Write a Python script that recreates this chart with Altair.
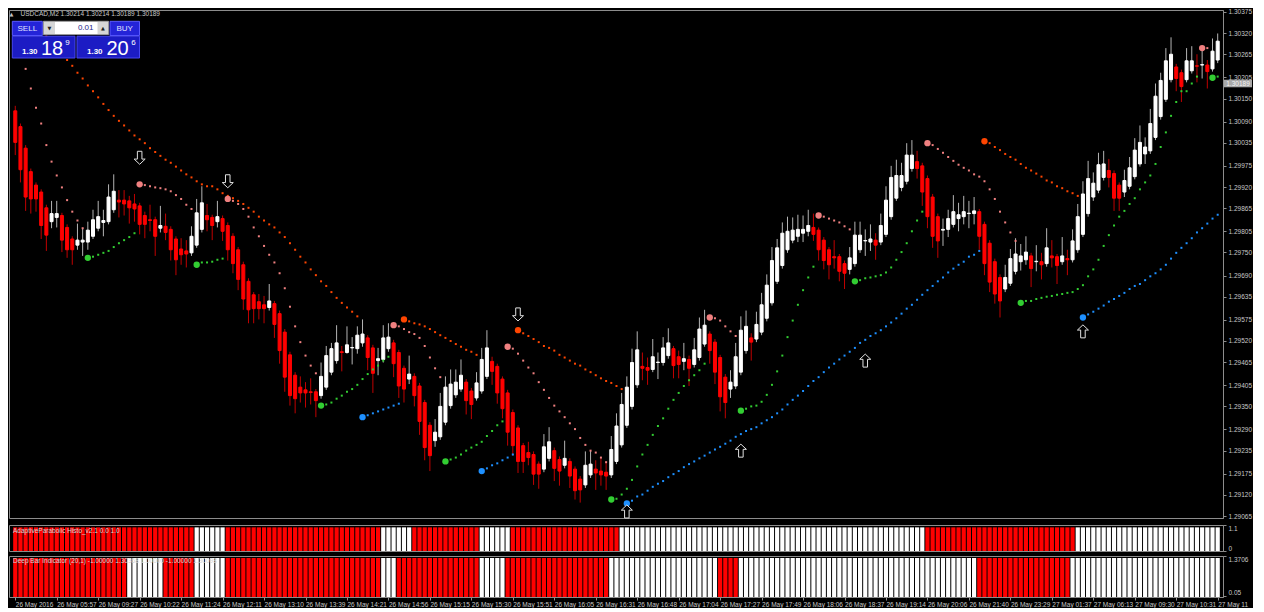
import altair as alt
import numpy as np
import pandas as pd

PT = 1e5  # prices are stored in points (1/100000)

OPEN = [
 130118,130077,130021,129960,129925,129907,129866,129830,129841,129846,
 129815,129785,129769,129777,129777,129792,129813,129828,129830,129861,
 129886,129886,129884,129876,129871,129846,129835,129835,129813,129818,
 129810,129785,129759,129754,129749,129769,129810,129846,129841,129830,
 129838,129820,129792,129757,129718,129675,129640,129622,129614,129607,
 129617,129591,129543,129484,129431,129400,129393,129388,129388,129378,
 129400,129439,129469,129492,129490,129502,129500,129515,129528,129502,
 129469,129472,129500,129515,129490,129449,129421,129428,129403,129360,
 129301,129261,129271,129309,129352,129380,129395,129413,129390,129372,
 129390,129428,129467,129454,129421,129385,129334,129294,129248,129230,
 129225,129200,129187,129215,129235,129212,129197,129207,129187,129161,
 129146,129172,129187,129182,129179,129172,129207,129250,129301,129350,
 129406,129454,129451,129446,129464,129464,129482,129500,129479,129467,
 129472,129459,129477,129512,129538,129517,129477,129426,129395,129403,
 129439,129495,129528,129525,129543,129579,129619,129675,129716,129757,
 129782,129792,129800,129805,129815,129808,129782,129757,129739,129739,
 129721,129706,129721,129757,129780,129777,129782,129777,129797,129843,
 129891,129919,129935,129968,129986,129975,129942,129894,129843,129808,
 129810,129823,129838,129843,129851,129851,129856,129823,129774,129726,
 129685,129655,129670,129701,129726,129731,129741,129726,129726,129721,
 129741,129739,129726,129734,129731,129757,129797,129851,129894,129912,
 129945,129963,129955,129925,129907,129922,129947,129980,130006,130014,
 130049,130103,130148,130199,130232,130217,130199,130222,130235,130237,
 130237,130227,130250]

HIGH = [
 130131,130085,130029,129968,129932,129914,129874,129884,129884,129853,
 129823,129792,129825,129813,129830,129861,129884,129861,129927,129953,
 129912,129912,129897,129902,129879,129856,129874,129843,129871,129851,
 129818,129792,129787,129782,129818,129889,129922,129876,129848,129884,
 129846,129828,129800,129764,129726,129683,129647,129642,129637,129668,
 129624,129599,129551,129492,129439,129428,129413,129423,129395,129464,
 129507,129515,129561,129507,129558,129530,129558,129576,129535,129510,
 129502,129561,129566,129523,129497,129456,129482,129436,129411,129367,
 129309,129317,129385,129428,129446,129446,129472,129421,129398,129439,
 129502,129548,129479,129461,129428,129393,129342,129301,129255,129258,
 129233,129207,129278,129296,129243,129220,129261,129215,129194,129169,
 129233,129235,129210,129215,129207,129273,129332,129385,129428,129500,
 129545,129490,129477,129525,129490,129530,129553,129507,129495,129515,
 129482,129528,129581,129601,129545,129525,129484,129434,129444,129515,
 129584,129599,129540,129596,129645,129693,129764,129785,129828,129843,
 129841,129848,129846,129861,129851,129815,129790,129764,129782,129746,
 129729,129764,129830,129830,129810,129823,129800,129851,129922,129975,
 129991,129983,130034,130042,130014,129983,129950,129902,129851,129838,
 129861,129899,129879,129897,129884,129894,129863,129830,129782,129734,
 129693,129718,129759,129787,129772,129792,129749,129769,129749,129813,
 129782,129746,129790,129757,129810,129876,129935,129988,129958,130009,
 130014,129993,129963,129932,129965,129998,130047,130080,130049,130123,
 130189,130217,130281,130309,130240,130225,130281,130286,130265,130276,
 130250,130306,130319]

LOW = [
 130003,129932,129858,129851,129856,129785,129754,129813,129815,129751,
 129736,129718,129757,129741,129757,129785,129805,129792,129823,129853,
 129841,129846,129825,129830,129797,129787,129805,129741,129802,129782,
 129729,129691,129718,129711,129741,129762,129802,129805,129782,129815,
 129780,129729,129696,129652,129601,129566,129566,129576,129566,129599,
 129528,129461,129388,129352,129332,129360,129347,129355,129322,129370,
 129393,129431,129461,129441,129487,129459,129487,129505,129444,129385,
 129431,129464,129492,129426,129372,129360,129408,129350,129276,129210,
 129182,129245,129263,129301,129344,129372,129388,129329,129317,129365,
 129383,129421,129406,129357,129319,129248,129222,129177,129177,129197,
 129146,129136,129179,129207,129156,129144,129189,129138,129108,129100,
 129138,129164,129133,129144,129133,129164,129200,129243,129294,129342,
 129398,129418,129406,129439,129421,129456,129474,129423,129423,129444,
 129403,129451,129469,129505,129461,129408,129337,129319,129372,129395,
 129431,129487,129469,129517,129535,129571,129612,129668,129708,129749,
 129774,129777,129777,129792,129780,129729,129706,129680,129708,129675,
 129655,129693,129713,129749,129741,129754,129731,129769,129790,129835,
 129884,129909,129927,129960,129942,129871,129813,129762,129736,129767,
 129790,129815,129805,129823,129813,129823,129757,129691,129647,129617,
 129581,129647,129663,129693,129703,129718,129660,129701,129680,129713,
 129711,129668,129718,129691,129724,129749,129790,129843,129884,129904,
 129937,129919,129858,129858,129894,129914,129940,129973,129980,130006,
 130042,130095,130141,130192,130169,130141,130192,130215,130192,130202,
 130176,130220,130242]

CLOSE = [
 130036,129965,129894,129889,129889,129820,129795,129851,129851,129782,
 129757,129757,129782,129782,129808,129835,129843,129833,129894,129909,
 129881,129876,129866,129863,129823,129823,129833,129792,129820,129802,
 129757,129731,129744,129746,129792,129853,129879,129835,129820,129843,
 129805,129757,129721,129680,129629,129601,129604,129604,129604,129624,
 129563,129495,129426,129378,129370,129385,129385,129386,129365,129428,
 129482,129500,129515,129490,129510,129503,129535,129538,129477,129436,
 129474,129528,129530,129461,129403,129395,129434,129378,129311,129243,
 129222,129283,129350,129400,129408,129413,129431,129365,129355,129411,
 129472,129502,129441,129385,129344,129283,129248,129207,129207,129217,
 129174,129174,129245,129258,129189,129182,129215,129169,129131,129133,
 129197,129200,129177,129172,129169,129238,129299,129355,129400,129464,
 129497,129449,129444,129479,129465,129502,129515,129456,129459,129474,
 129449,129497,129551,129561,129495,129439,129375,129360,129413,129479,
 129548,129558,129517,129563,129614,129665,129729,129762,129800,129805,
 129808,129810,129810,129820,129797,129757,129729,129718,129736,129701,
 129696,129736,129795,129795,129781,129785,129769,129820,129886,129945,
 129950,129950,130003,130003,129968,129907,129843,129792,129780,129810,
 129838,129856,129848,129856,129852,129858,129792,129721,129673,129642,
 129624,129685,129734,129746,129741,129751,129708,129727,129718,129762,
 129736,129716,129741,129731,129780,129843,129902,129942,129930,129978,
 129980,129945,129891,129891,129937,129970,130016,130036,130024,130085,
 130156,130197,130248,130265,130202,130181,130248,130248,130234,130238,
 130220,130273,130299]

# indicator dots: (first bar, starts with a big dot, values per bar)
PINK = [
 (0, False, [130288,130263,130227,130176,130126,130085,130029,129986,129950,129919,129886,129856,129833,129813]),
 (24, True, [129927,129925,129922,129919,129917,129914,129909,129899,129889,129874,129863]),
 (41, True, [129889,129884,129876,129863,129843,129815,129792,129767,129744,129724,129696,129657,129609,129558,129517,129482,129456,129436]),
 (73, True, [129561,129558,129551,129543,129538,129528,129507,129477,129449,129426]),
 (95, True, [129505,129500,129487,129469,129451,129436,129413,129393,129372,129352,129337,129322,129306,129291,129268,129250,129235,129230,129217,129205]),
 (134, True, [129581,129579,129573,129558,129545,129533]),
 (155, True, [129846,129843,129838,129833,129828,129818,129810]),
 (176, True, [130034,130029,130019,130009,129998,129988,129978,129970,129963,129953,129947,129935,129914,129889,129856,129828,129802,129780]),
 (229, True, [130281,130281]),
]
GREEN = [
 (14, True, [129736,129739,129744,129749,129754,129764,129774,129782,129790,129800]),
 (35, True, [129718,129724,129724,129726,129731,129734]),
 (59, True, [129352,129355,129360,129370,129378,129388,129395,129406,129421,129434,129446,129456,129469,129479]),
 (83, True, [129207,129212,129217,129225,129235,129243,129250,129258,129273,129286,129301,129311]),
 (115, True, [129108,129110,129121,129136,129159,129194,129225,129250,129276,129299,129319,129344,129367,129385,129403,129418,129431,129444,129461]),
 (140, True, [129339,129344,129350,129352,129362,129380,129406,129441,129482,129530,129573,129614,129652,129685,129713]),
 (162, True, [129675,129678,129683,129685,129688,129691,129698,129711,129731,129751,129774,129805,129833,129856]),
 (194, True, [129619,129624,129624,129629,129632,129635,129637,129640,129642,129645,129647,129655,129665,129688,129706,129731,129767,129795,129820,129843,129858,129876,129891,129914,129932,129950,129980,130024,130062,130105,130141,130169,130169,130189,130207]),
 (231, True, [130204,130207]),
]
ORANGE = [
 (4, False, [130342,130326,130311,130296,130281,130265,
             130250,130235,130217,130202,130184,130169,130153,130136,
             130120,130105,130092,130080,130067,130054,130044,130034,130021,130011,
             130001,129991,129983,129973,129963,129953,129945,129935,129927,129922,
             129922,129914,129904,129897,129891,129884,129876,129866,129856,129843,
             129833,129823,129815,129802,129790,129774,129757,129739,129724,129706,
             129691,129675,129663,129647,129632,129619,129607,129596,129584]),
 (75, True, [129576,129571,129566,129563,129558,129551,129543,129535,129528,129520,129512,129505,129497,129492,129484]),
 (97, True, [129548,129540,129533,129525,129517,129507,129502,129495,129484,129477,129469,129461,129456,129446,129439,129431,129423,129416,129411,129403,129395]),
 (187, True, [130039,130034,130024,130016,130006,129998,129991,129980,129970,129963,129955,129947,129937,129932,129922,129917,129909,129904,129897]),
]
BLUE = [
 (67, True, [129322,129327,129332,129337,129342,129347,129352,129357]),
 (90, True, [129182,129189,129197,129202,129210,129217,129225]),
 (118, True, [129098,129105,129116,129121,129131,129141,129149,129156,129166,129174,
              129182,129192,129200,129207,129215,129222,129230,129238,129245,129253,
              129261,129271,129278,129286,129291,129296,129306,129314,129322,129332,
              129342,129355,129367,129378,129390,129403,129416,129426,129439,129451,
              129461,129472,129482,129492,129502,129515,129523,129533,129540,129548,
              129558,129568,129579,129591,129604,129614,129627,129640,129652,
              129663,129675,129685,129698,129708,129718,129726,129739,129744,129754]),
 (206, True, [129581,129589,129596,129604,129612,129622,129629,129637,129645,129655,129663,129668,129678,129688,129696,129706,129718,129734,129749,129762,129774,129787,129802,129813,129825,129838,129848]),
]
DOWN_ARROWS = [(24, 129996), (41, 129935), (97, 129589)]
UP_ARROWS = [(118, 129077), (140, 129235), (164, 129469), (206, 129545)]

PRICE_TICKS = [1.30375, 1.30320, 1.30265, 1.30205, 1.30150, 1.30090, 1.30035, 1.29975,
               1.29920, 1.29865, 1.29805, 1.29750, 1.29690, 1.29635, 1.29575, 1.29520,
               1.29465, 1.29405, 1.29350, 1.29290, 1.29235, 1.29175, 1.29120, 1.29065]
TIME_LABELS = ["26 May 2016", "26 May 05:57", "26 May 09:27", "26 May 10:22", "26 May 11:24",
               "26 May 12:11", "26 May 13:10", "26 May 13:39", "26 May 14:21", "26 May 14:56",
               "26 May 15:15", "26 May 15:30", "26 May 15:51", "26 May 16:05", "26 May 16:31",
               "26 May 16:48", "26 May 17:04", "26 May 17:27", "26 May 17:49", "26 May 18:06",
               "26 May 18:37", "26 May 19:14", "26 May 20:06", "26 May 21:40", "26 May 23:29",
               "27 May 01:37", "27 May 06:13", "27 May 09:30", "27 May 10:31", "27 May 11"]
HISTO1_RUNS = [("red", 0, 34), ("white", 35, 40), ("red", 41, 70), ("white", 71, 76),
               ("red", 77, 89), ("white", 90, 95), ("red", 96, 116), ("white", 117, 175),
               ("red", 176, 204), ("white", 205, 232)]
HISTO2_RUNS = [("red", 0, 21), ("white", 22, 28), ("red", 29, 34), ("white", 35, 40),
               ("red", 41, 70), ("white", 71, 73), ("red", 74, 89), ("white", 90, 94),
               ("red", 95, 114), ("white", 115, 135), ("red", 136, 139), ("white", 140, 185),
               ("red", 186, 203), ("white", 204, 232)]
HISTO1_VALUE = 1.0
HISTO2_VALUE = 1.3037
BID = 1.30189
HEADER = "USDCAD,M2  1.30214 1.30214 1.30189 1.30189"
HISTO1_TITLE = "AdaptiveParabolic Histo_v2.1 0.0 1.0"
HISTO2_TITLE = "Deep Bar Indicator (20,1) -1.00000 1.30368 1.00000 -1.00000 1.30098"

# ---------------- styling ----------------
FONT = "Liberation Sans"
TXT = "#c8c8c8"
FRAME = "#8c8c8c"
BULL_BODY, BEAR_BODY = "#ffffff", "#ff0000"
BULL_WICK, BEAR_WICK = "#b4b4b4", "#c00000"
SAR_COLORS = {"pink": "#f08080", "orange": "#ff4500", "green": "#32cd32", "blue": "#1e90ff"}
HISTO_COLORS = {"red": "#ff0000", "white": "#ffffff"}

W = 1214
H_MAIN, H_P1, H_P2 = 508, 26, 41
XDOM = [-0.245, 232.06]
YDOM = [1.29060, 1.30380]

xs = alt.Scale(domain=XDOM, nice=False, zero=False)
ys = alt.Scale(domain=YDOM, nice=False, zero=False)

N = len(OPEN)
cdf = pd.DataFrame({"i": np.arange(N), "o": np.array(OPEN) / PT, "h": np.array(HIGH) / PT,
                    "l": np.array(LOW) / PT, "c": np.array(CLOSE) / PT})
up = cdf["c"] >= cdf["o"]
cdf["body"] = np.where(up, BULL_BODY, BEAR_BODY)
cdf["wick"] = np.where(up, BULL_WICK, BEAR_WICK)

rows = []
for name, segs in [("pink", PINK), ("green", GREEN), ("orange", ORANGE), ("blue", BLUE)]:
    for start, big, vals in segs:
        for k, v in enumerate(vals):
            rows.append({"i": start + k, "p": v / PT, "col": SAR_COLORS[name], "big": bool(big and k == 0)})
dots = pd.DataFrame(rows)
small = dots[~dots["big"]]
bigd = dots[dots["big"]]

down_df = pd.DataFrame({"i": [a for a, _ in DOWN_ARROWS], "p": [b / PT for _, b in DOWN_ARROWS]})
up_df = pd.DataFrame({"i": [a for a, _ in UP_ARROWS], "p": [b / PT for _, b in UP_ARROWS]})


def price_axis():
    return alt.Axis(orient="right", values=PRICE_TICKS, format=".5f", title=None,
                    labelFontSize=6.5, labelColor=TXT, tickColor=FRAME, domainColor=FRAME,
                    tickSize=3, labelPadding=2, grid=False, labelOverlap=False, labelFlush=False)


def X():
    return alt.X("i:Q", scale=xs, axis=None)


def Y(field):
    return alt.Y(field, type="quantitative", scale=ys, axis=price_axis())


wicks = alt.Chart(cdf).mark_rule(strokeWidth=1).encode(
    x=X(), y=Y("l"), y2="h:Q", color=alt.Color("wick:N", scale=None))
bodies = alt.Chart(cdf).mark_bar(size=3, strokeWidth=1).encode(
    x=X(), y=Y("o"), y2="c:Q",
    fill=alt.Fill("body:N", scale=None), stroke=alt.Stroke("body:N", scale=None))
small_dots = alt.Chart(small).mark_square(size=4, opacity=1).encode(
    x=X(), y=Y("p"), color=alt.Color("col:N", scale=None))
big_dots = alt.Chart(bigd).mark_circle(size=40, opacity=1).encode(
    x=X(), y=Y("p"), color=alt.Color("col:N", scale=None))

DOWN_PATH = "M-0.35,-1L0.35,-1L0.35,0.2L0.85,0.2L0,1L-0.85,0.2L-0.35,0.2Z"
UP_PATH = "M-0.35,1L0.35,1L0.35,-0.2L0.85,-0.2L0,-1L-0.85,-0.2L-0.35,-0.2Z"
down_arrows = alt.Chart(down_df).mark_point(shape=DOWN_PATH, size=169, filled=True, fill="#000000",
                                            stroke="#e0e0e0", strokeWidth=1, opacity=1).encode(
    x=X(), y=Y("p"))
up_arrows = alt.Chart(up_df).mark_point(shape=UP_PATH, size=169, filled=True, fill="#000000",
                                        stroke="#e0e0e0", strokeWidth=1, opacity=1).encode(
    x=X(), y=Y("p"))

one = pd.DataFrame({"k": [0]})
bid_df = pd.DataFrame({"p": [BID], "t": [f"{BID:.5f}"]})


def box(x0, x1, y0, y1, fill, stroke=None):
    kw = {"fill": fill, "strokeWidth": 1 if stroke else 0}
    if stroke:
        kw["stroke"] = stroke
    return alt.Chart(one).mark_rect(**kw).encode(
        x=alt.value(x0), x2=alt.value(x1), y=alt.value(y0), y2=alt.value(y1))


def label(x, y, s, size, color, align="left", baseline="middle", weight="normal", font=FONT):
    return alt.Chart(one).mark_text(text=s, fontSize=size, color=color, align=align,
                                    baseline=baseline, fontWeight=weight, font=font).encode(
        x=alt.value(x), y=alt.value(y))


panel = [
    box(3.3, 33.3, 11.3, 25.5, "#2424d8", "#5a5aff"),
    box(34.5, 99.5, 11.3, 24.5, "#ffffff", "#9a9a9a"),
    box(35, 46, 12, 24, "#d6d6d6"),
    box(88.5, 99, 12, 24, "#d6d6d6"),
    box(101, 130.5, 11.3, 25.5, "#2424d8", "#5a5aff"),
    box(3.3, 66, 26.2, 48, "#1c1cc4", "#4646f0"),
    box(68, 130.5, 26.2, 48, "#1c1cc4", "#4646f0"),
    label(18.3, 18.5, "SELL", 8, "#e0e0ff", align="center"),
    label(115.7, 18.5, "BUY", 8, "#e0e0ff", align="center"),
    label(84.5, 18, "0.01", 8, "#1e1e8c", align="right"),
    label(40.5, 18, "▼", 5, "#202020", align="center", font="DejaVu Sans"),
    label(93.8, 18, "▲", 5, "#202020", align="center", font="DejaVu Sans"),
    label(13, 44, "1.30", 8, "#ffffff", baseline="alphabetic", weight="bold"),
    label(32, 44.7, "18", 20, "#ffffff", baseline="alphabetic"),
    label(56.3, 35, "9", 8, "#ffffff", baseline="alphabetic"),
    label(78, 44, "1.30", 8, "#ffffff", baseline="alphabetic", weight="bold"),
    label(97.5, 44.7, "20", 20, "#ffffff", baseline="alphabetic"),
    label(122.3, 35, "6", 8, "#ffffff", baseline="alphabetic"),
    label(0.5, 4.2, "▲", 5, "#c0c0c0", font="DejaVu Sans"),
    label(11.5, 4.2, HEADER, 6.5, TXT),
]

bid_box = alt.Chart(bid_df).mark_point(shape="M-1,-0.27H1V0.27H-1Z", size=784, filled=True,
                                       fill="#a8a8a8", strokeWidth=0, opacity=1).encode(
    x=alt.value(W + 15), y=Y("p"))
bid_text = alt.Chart(bid_df).mark_text(fontSize=6.5, color="#f4f4f4", align="center",
                                       baseline="middle", font=FONT).encode(
    x=alt.value(W + 15), y=Y("p"), text="t:N")

main = alt.layer(wicks, bodies, small_dots, big_dots, down_arrows, up_arrows,
                 *panel, bid_box, bid_text).properties(width=W, height=H_MAIN)


def expand(runs):
    out = []
    for col, a, b in runs:
        out += [HISTO_COLORS[col]] * (b - a + 1)
    return out


h1df = pd.DataFrame({"i": np.arange(N), "col": expand(HISTO1_RUNS), "v": HISTO1_VALUE})
h2df = pd.DataFrame({"i": np.arange(N), "col": expand(HISTO2_RUNS), "v": HISTO2_VALUE})

small_axis = dict(orient="right", title=None, labelFontSize=6.5, labelColor=TXT, tickColor=FRAME,
                  domainColor=FRAME, tickSize=3, labelPadding=2, grid=False, labelOverlap=False,
                  labelFlush=3, labelExpr="format(datum.value, '~g')")

p1_bars = alt.Chart(h1df).mark_bar(size=4.2).encode(
    x=alt.X("i:Q", scale=xs, axis=None),
    y=alt.Y("v:Q", scale=alt.Scale(domain=[0, 1.1], nice=False, zero=False),
            axis=alt.Axis(values=[0, 1.1], **small_axis)),
    y2=alt.datum(0),
    color=alt.Color("col:N", scale=None),
)
p1 = alt.layer(p1_bars, label(4, 5.5, HISTO1_TITLE, 6.5, "#d4d4d4")).properties(width=W, height=H_P1)

label_expr = "[" + ",".join("'" + s + "'" for s in TIME_LABELS) + "][round(datum.value/8)]"
x_axis = alt.Axis(values=list(range(0, N, 8)), labelExpr=label_expr, labelAlign="left",
                  labelFontSize=6.5, labelColor=TXT, tickColor=FRAME, tickSize=3, labelPadding=1,
                  domain=False, grid=False, title=None, labelOverlap=False, labelFlush=False)
p2_bars = alt.Chart(h2df).mark_bar(size=4.2).encode(
    x=alt.X("i:Q", scale=xs, axis=x_axis),
    y=alt.Y("v:Q", scale=alt.Scale(domain=[0, 1.3706], nice=False, zero=False),
            axis=alt.Axis(values=[0.05, 1.3706], **small_axis)),
    y2=alt.datum(0),
    color=alt.Color("col:N", scale=None),
)
p2 = alt.layer(p2_bars, label(4, 4.5, HISTO2_TITLE, 6.5, "#d4d4d4")).properties(width=W, height=H_P2)

chart = alt.vconcat(main, p1, p2, spacing=3).properties(
    padding=0, background="#000000"
).configure(font=FONT).configure_view(stroke=FRAME, strokeWidth=1)

chart.save("out.html", embed_options={"renderer": "svg", "actions": False})
